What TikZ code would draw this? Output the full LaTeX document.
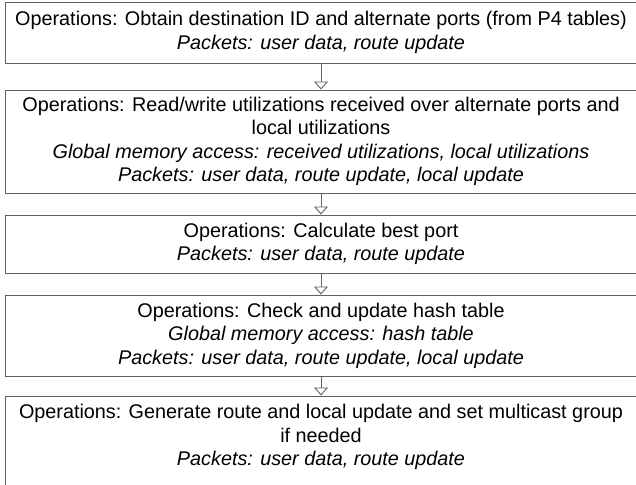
\documentclass[tikz,border=0pt]{standalone}
\usepackage{fontspec}
\setmainfont{Liberation Sans}
\usetikzlibrary{arrows.meta}
\tikzset{
  stagebox/.style={draw=black!62, line width=0.9pt, fill=white, minimum width=632pt,
    align=center, inner sep=2pt, font=\fontsize{19.8}{23.5}\selectfont},
  arr/.style={draw=black!62, line width=0.9pt,
    -{Triangle[open, width=14pt, length=8pt, fill=white]}}
}
\begin{document}
\begin{tikzpicture}[x=1pt,y=1pt]
\useasboundingbox (0,0) rectangle (636,-484);
\clip (0,0) rectangle (636,-484);
\node[stagebox, minimum height=61pt] (b1) at (321,-32.5)
  {Operations: Obtain destination ID and alternate ports (from P4 tables)\\
   \itshape Packets: user data, route update};
\node[stagebox, minimum height=103pt] (b2) at (321,-141.5)
  {Operations: Read/write utilizations received over alternate ports and\\
   local utilizations\\
   \itshape Global memory access: received utilizations, local utilizations\\
   \itshape Packets: user data, route update, local update};
\node[stagebox, minimum height=58pt] (b3) at (321,-244)
  {Operations: Calculate best port\\
   \itshape Packets: user data, route update};
\node[stagebox, minimum height=81pt] (b4) at (321,-335.5)
  {Operations: Check and update hash table\\
   \itshape Global memory access: hash table\\
   \itshape Packets: user data, route update, local update};
\node[stagebox, minimum height=102pt] (b5) at (321,-447)
  {Operations: Generate route and local update and set multicast group\\
   if needed\\
   \itshape Packets: user data, route update\\ \mbox{}};
\draw[arr] (b1.south) -- (b2.north);
\draw[arr] (b2.south) -- (b3.north);
\draw[arr] (b3.south) -- (b4.north);
\draw[arr] (b4.south) -- (b5.north);
\end{tikzpicture}
\end{document}
